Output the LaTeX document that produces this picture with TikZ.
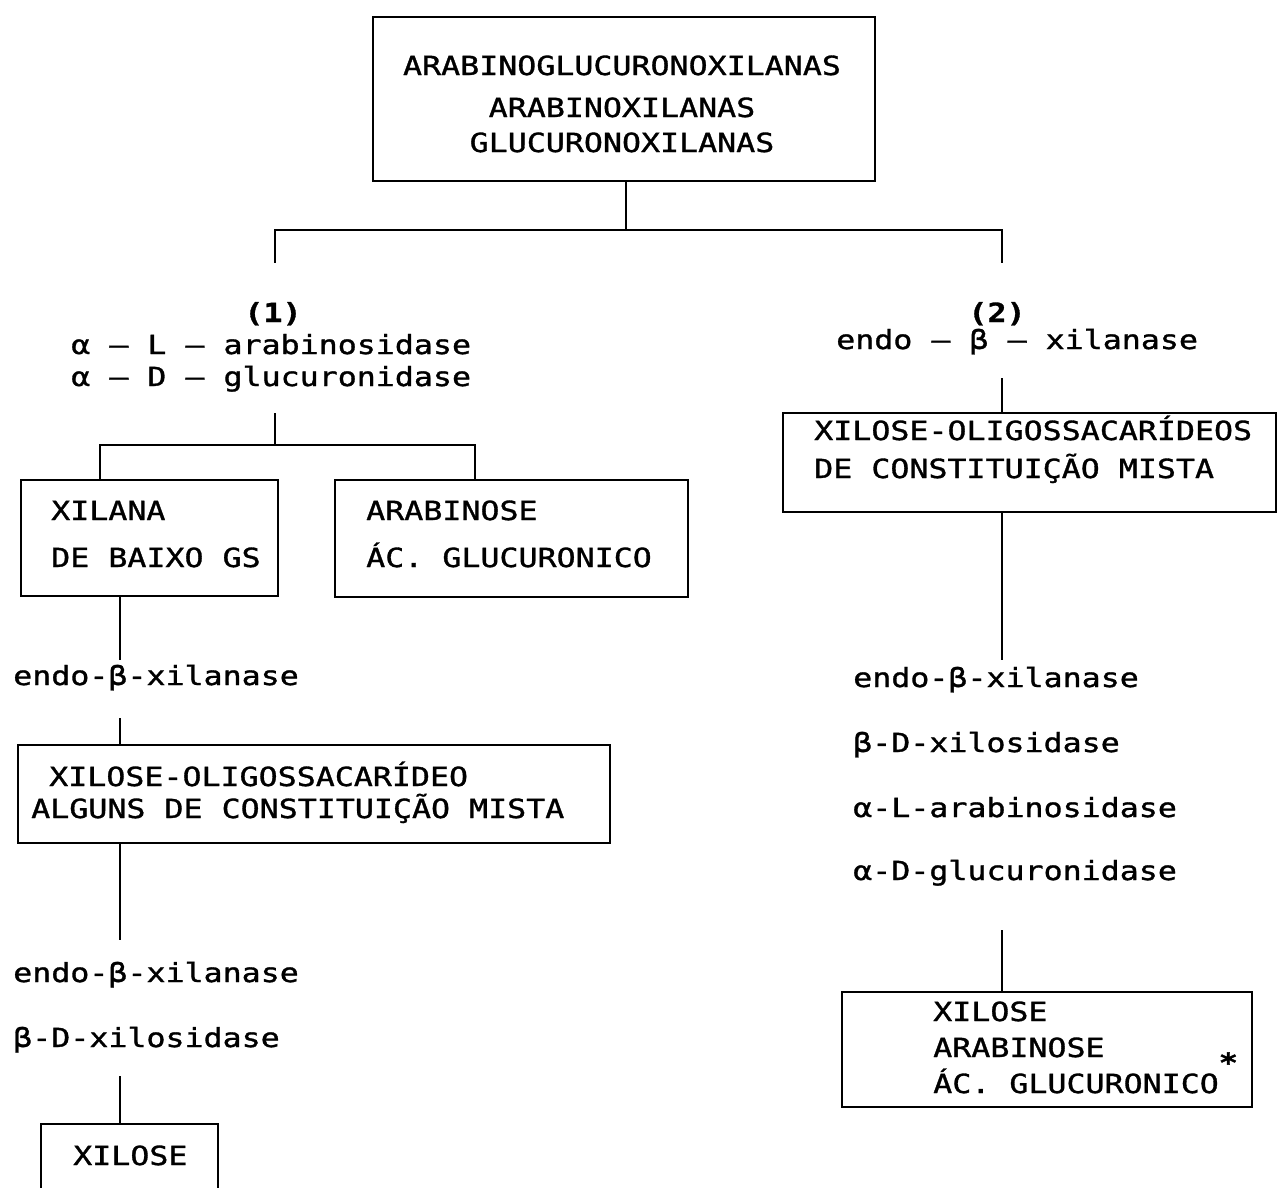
\documentclass[tikz,border=0pt]{standalone}
\usepackage{fontspec}
\setmainfont{DejaVu Sans Mono}[FakeStretch=1.2, FakeBold=1.2]
\usetikzlibrary{fit}
\tikzset{every picture/.style={line width=1.4pt}}

\begin{document}
\begin{tikzpicture}[x=0.02cm, y=-0.02cm,
    caixa/.style={draw, inner sep=0pt},
    txt/.style={font=\fontsize{15}{18}\selectfont, inner sep=0pt, anchor=base west},
    txtc/.style={txt, anchor=base},
    numero/.style={txtc, font=\fontsize{15}{18}\selectfont\bfseries}]
    \path[use as bounding box, fill=white] (0,0) rectangle (1280,1187);
    \clip (0,0) rectangle (1280,1187);

    % polissacarideo de partida
    \node[caixa, fit={(373,17) (875,181)}] (topo) {};
    \node[txtc] (topoA) at (622,75) {ARABINOGLUCURONOXILANAS};
    \node[txtc] (topoB) at (622,117) {ARABINOXILANAS};
    \node[txtc] (topoC) at (622,152) {GLUCURONOXILANAS};

    % divisao nos caminhos (1) e (2)
    \coordinate (j0) at (626,230);
    \coordinate (r1) at (275,263);
    \coordinate (r2) at (1002,263);
    \draw (topo.south -| j0) -- (j0) -| (r1);
    \draw (j0) -| (r2);

    % caminho (1)
    \node[numero] (um) at (273,322) {(1)};
    \node[txt] (enzA) at (70,354) {α – L – arabinosidase};
    \node[txt] (enzB) at (70,386) {α – D – glucuronidase};
    \coordinate (a1) at (275,413);
    \coordinate (a2) at (275,445);
    \coordinate (a3) at (100,480);
    \coordinate (a4) at (475,480);
    \draw (a1) -- (a2) -| (a3);
    \draw (a2) -| (a4);

    \node[caixa, fit={(21,480) (278,596)}] (xilana) {};
    \node[txt] (xilanaA) at (50,520) {XILANA};
    \node[txt] (xilanaB) at (50,567) {DE BAIXO GS};
    \node[caixa, fit={(335,480) (688,597)}] (arab) {};
    \node[txt] (arabA) at (365,520) {ARABINOSE};
    \node[txt] (arabB) at (365,567) {ÁC. GLUCURONICO};

    \coordinate (b1) at (120,660);
    \draw (xilana.south -| b1) -- (b1);
    \node[txt] (enzC) at (12,685) {endo-β-xilanase};
    \coordinate (b2) at (120,718);
    \node[caixa, fit={(18,745) (610,843)}] (oligo) {};
    \draw (b2) -- (oligo.north -| b2);
    \node[txt] (oligoA) at (48,786) {XILOSE-OLIGOSSACARÍDEO};
    \node[txt] (oligoB) at (30,818) {ALGUNS DE CONSTITUIÇÃO MISTA};

    \coordinate (b3) at (120,940);
    \draw (oligo.south -| b3) -- (b3);
    \node[txt] (enzD) at (12,982) {endo-β-xilanase};
    \node[txt] (enzE) at (12,1047) {β-D-xilosidase};
    \coordinate (b4) at (120,1076);
    \node[caixa, fit={(41,1124) (218,1215)}] (xilose) {};
    \draw (b4) -- (xilose.north -| b4);
    \node[txt] (xiloseA) at (72,1165) {XILOSE};

    % caminho (2)
    \node[numero] (dois) at (997,322) {(2)};
    \node[txt] (enzF) at (835,349) {endo – β – xilanase};
    \coordinate (c1) at (1002,378);
    \node[caixa, fit={(783,413) (1276,512)}] (oligo2) {};
    \draw (c1) -- (oligo2.north -| c1);
    \node[txt] (oligo2A) at (813,440) {XILOSE-OLIGOSSACARÍDEOS};
    \node[txt] (oligo2B) at (813,478) {DE CONSTITUIÇÃO MISTA};

    \coordinate (c2) at (1002,660);
    \draw (oligo2.south -| c2) -- (c2);
    \node[txt] (enzG) at (852,687) {endo-β-xilanase};
    \node[txt] (enzH) at (852,752) {β-D-xilosidase};
    \node[txt] (enzI) at (852,817) {α-L-arabinosidase};
    \node[txt] (enzJ) at (852,880) {α-D-glucuronidase};

    \coordinate (c3) at (1002,930);
    \node[caixa, fit={(842,992) (1252,1107)}] (final) {};
    \draw (c3) -- (final.north -| c3);
    \node[txt] (finalA) at (932,1021) {XILOSE};
    \node[txt] (finalB) at (932,1057) {ARABINOSE};
    \node[txt] (finalC) at (932,1093) {ÁC. GLUCURONICO\raisebox{0.8em}{\bfseries *}};
\end{tikzpicture}
\end{document}
